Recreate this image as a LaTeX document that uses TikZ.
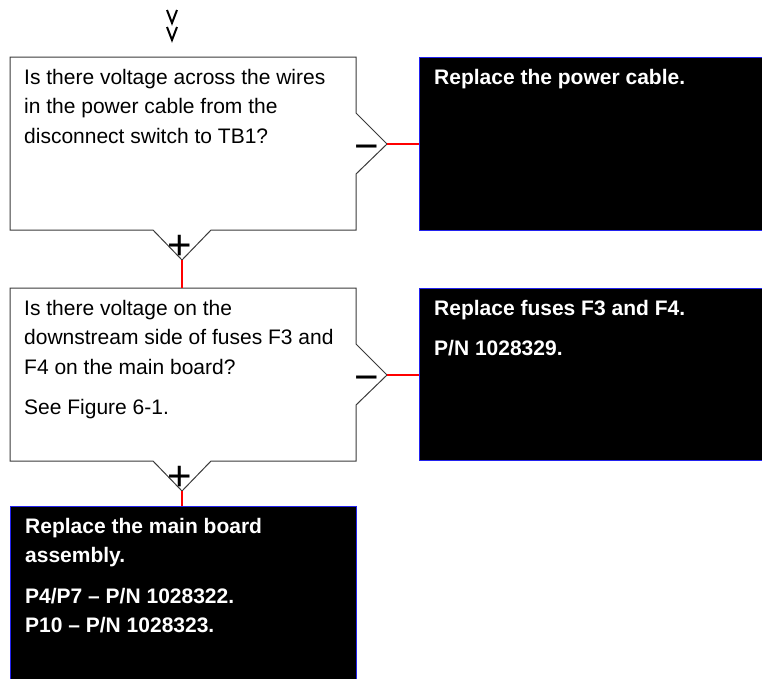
\documentclass[tikz,border=0pt]{standalone}
\usepackage{fontspec}
\setmainfont{Liberation Sans}
\usepackage{xcolor}
\usepackage{tikz}
\definecolor{tsRed}{HTML}{FF0000}
\definecolor{tsBlue}{HTML}{2222EE}
\definecolor{tsGrey}{HTML}{3A3A3A}
\tikzset{
  qbox/.style={line width=1pt, tsGrey},
  fixbox/.style={draw=tsBlue, fill=black, line width=1pt, anchor=north west, inner sep=0pt},
  txt/.style={anchor=north west, inner sep=0pt, align=left, font=\fontsize{21}{29.5}\selectfont},
  fixtxt/.style={txt, text=white, font=\fontsize{21}{29.5}\selectfont\bfseries},
  wire/.style={line width=1.2pt, tsRed},
  sgn/.style={anchor=base, inner sep=0pt, font=\fontsize{42}{42}\selectfont},
  vmark/.style={line width=2pt},
}

\begin{document}
\begin{tikzpicture}[x=1pt, y=-1pt]
  \useasboundingbox (0,0) rectangle (762,678);
  \clip (0,0) rectangle (762,678);
  \foreach \v in {10, 27} { \draw[vmark] (167,\v) -- (172,\v+13) -- (177,\v); }
  \foreach \y/\n in {57/1, 288/2} {
    \draw[qbox] (10,\y) -- (356,\y) -- (356,\y+56) -- (387,\y+87) -- (356,\y+117)
      -- (356,\y+173) -- (211,\y+173) -- (182,\y+203) -- (153,\y+173) -- (10,\y+173) -- cycle;
    \coordinate (in\n) at (182,\y);
    \coordinate (no\n) at (387,\y+87);
    \coordinate (yes\n) at (182,\y+203);
    \node[sgn] (minus\n) at ([shift={(-20.5,16.7)}]no\n) {−};
    \node[sgn] (plus\n) at ([shift={(-2,-1)}]yes\n) {+};
  }
  \node[txt] (q1) at (24,69) {Is there voltage across the wires\\in the power cable from the\\disconnect switch to TB1?};
  \node[txt] (q2) at (24,300) {Is there voltage on the\\downstream side of fuses F3 and\\F4 on the main board?\\[11pt]See Figure 6-1.};
  \node[fixbox, minimum width=360, minimum height=173] (fix1) at (419,57) {};
  \node[fixbox, minimum width=360, minimum height=172] (fix2) at (419,288) {};
  \node[fixbox, minimum width=346, minimum height=200] (fix3) at (10,506) {};
  \node[fixtxt] (fix1t) at ([shift={(15,12)}]fix1.north west) {Replace the power cable.};
  \node[fixtxt] (fix2t) at ([shift={(15,12)}]fix2.north west) {Replace fuses F3 and F4.\\[11pt]P/N 1028329.};
  \node[fixtxt] (fix3t) at ([shift={(15,12)}]fix3.north west) {Replace the main board\\assembly.\\[11pt]P4/P7 – P/N 1028322.\\P10 – P/N 1028323.};
  \draw[wire] (no1) -- (no1 -| fix1.west);
  \draw[wire] (yes1) -- (in2);
  \draw[wire] (no2) -- (no2 -| fix2.west);
  \draw[wire] (yes2) -- (yes2 |- fix3.north);
\end{tikzpicture}
\end{document}
